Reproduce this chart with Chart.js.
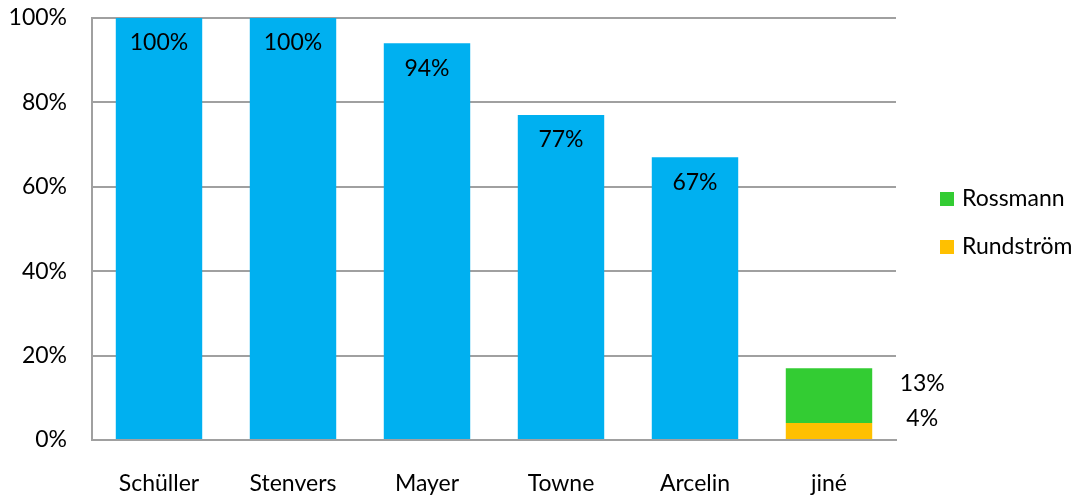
<!DOCTYPE html>
<html>
<head>
<meta charset="utf-8">
<script src="https://cdn.jsdelivr.net/npm/chart.js@4/dist/chart.umd.min.js"></script>
<style>
  html, body { margin: 0; padding: 0; background: #fff; }
  #wrap { width: 1089px; height: 497px; }
</style>
</head>
<body>
<div id="wrap"><canvas id="chart"></canvas></div>
<script>
// --- Data ---
const categories = ["Schüller", "Stenvers", "Mayer", "Towne", "Arcelin", "jiné"];
const mainValues = [100, 100, 94, 77, 67, null];
const rundstromValues = [null, null, null, null, null, 4];
const rossmannValues = [null, null, null, null, null, 13];
const yTicks = [0, 20, 40, 60, 80, 100];

const FONT = "Lato, 'Open Sans', sans-serif";
const FONT_SIZE = 23;
const BLUE = "#00B0F0", GREEN = "#33CC33", ORANGE = "#FFC000", GRID = "#a0a0a0";

// --- Labels drawn on bars + side legend ---
const labelsPlugin = {
  id: "barLabels",
  afterDatasetsDraw(chart) {
    const ctx = chart.ctx;
    ctx.save();
    ctx.font = FONT_SIZE + "px " + FONT;
    ctx.fillStyle = "#000";
    ctx.textAlign = "center";
    ctx.textBaseline = "middle";

    // values inside the top of the blue bars
    chart.getDatasetMeta(0).data.forEach((bar, i) => {
      if (mainValues[i] == null) return;
      ctx.fillText(mainValues[i] + "%", bar.x, bar.y + 25);
    });

    // stacked bar: values to the right of each segment
    [1, 2].forEach(di => {
      const vals = chart.data.datasets[di].data;
      chart.getDatasetMeta(di).data.forEach((bar, i) => {
        if (vals[i] == null) return;
        const mid = (bar.y + bar.base) / 2;
        ctx.fillText(vals[i] + "%", bar.x + bar.width / 2 + 50, mid - 12);
      });
    });

    // legend (stacked series only, top entry first)
    const items = [{ text: "Rossmann", color: GREEN }, { text: "Rundström", color: ORANGE }];
    ctx.textAlign = "left";
    items.forEach((it, k) => {
      const y = 199 + k * 48;
      ctx.fillStyle = it.color;
      ctx.fillRect(940, y - 7, 14, 14);
      ctx.fillStyle = "#000";
      ctx.fillText(it.text, 962, y);
    });
    ctx.restore();
  }
};

new Chart(document.getElementById("chart"), {
  type: "bar",
  data: {
    labels: categories,
    datasets: [
      { label: "", data: mainValues, backgroundColor: BLUE },
      { label: "Rundström", data: rundstromValues, backgroundColor: ORANGE },
      { label: "Rossmann", data: rossmannValues, backgroundColor: GREEN }
    ]
  },
  options: {
    responsive: true,
    maintainAspectRatio: false,
    animation: false,
    layout: { padding: { top: 18, right: 193, left: 0, bottom: 0 } },
    datasets: { bar: { categoryPercentage: 0.645, barPercentage: 1 } },
    plugins: { legend: { display: false }, tooltip: { enabled: false } },
    scales: {
      x: {
        stacked: true,
        grid: { display: false, drawTicks: false },
        border: { display: true, color: GRID, width: 2 },
        ticks: { padding: 30, color: "#000", font: { family: FONT, size: FONT_SIZE } },
        afterFit(scale) { scale.height = 57; }
      },
      y: {
        stacked: true,
        min: 0,
        max: 100,
        afterBuildTicks(scale) { scale.ticks = yTicks.map(v => ({ value: v })); },
        grid: { color: GRID, lineWidth: 2, drawTicks: false },
        border: { display: true, color: GRID, width: 2 },
        ticks: {
          padding: 25,
          color: "#000",
          font: { family: FONT, size: FONT_SIZE },
          callback: v => v + "%"
        },
        afterFit(scale) {
          scale.width = 92;
          scale.paddingTop = 0;
          scale.paddingBottom = 0;
        }
      }
    }
  },
  plugins: [labelsPlugin]
});
</script>
</body>
</html>
